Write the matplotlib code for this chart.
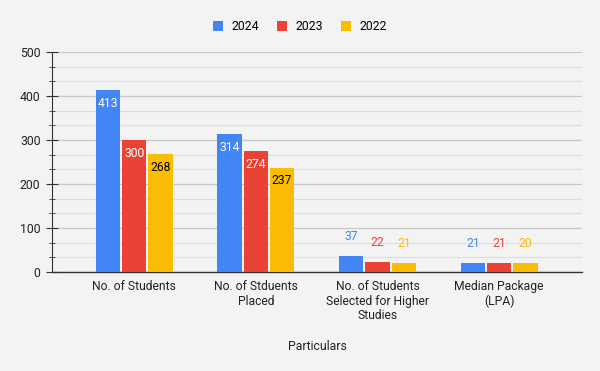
import matplotlib.pyplot as plt
from matplotlib.ticker import MultipleLocator
import numpy as np

plt.rcParams['font.family'] = ['Roboto', 'DejaVu Sans']

categories = ['No. of Students', 'No. of Stduents\nPlaced',
              'No. of Students\nSelected for Higher\nStudies', 'Median Package\n(LPA)']
years = ['2024', '2023', '2022']
values = {
    '2024': [413, 314, 37, 21],
    '2023': [300, 274, 22, 21],
    '2022': [268, 237, 21, 20],
}
colors = {'2024': '#4285F4', '2023': '#EA4335', '2022': '#FBBC04'}
inside_text = {'2024': 'white', '2023': 'white', '2022': 'black'}

bg = '#f3f3f3'
fig = plt.figure(figsize=(6, 3.71), dpi=100, facecolor=bg)
ax = fig.add_axes([52 / 600, 1 - 272 / 371, 530 / 600, 220 / 371], facecolor=bg)

x = np.arange(len(categories))
w = 0.2
for i, yr in enumerate(years):
    pos = x + (i - 1) * (w + 0.016)
    bars = ax.bar(pos, values[yr], width=w, color=colors[yr], label=yr, zorder=3)
    for b, v in zip(bars, values[yr]):
        cx = b.get_x() + b.get_width() / 2
        if v > 100:
            ax.annotate(str(v), (cx, v), xytext=(0, -9.5), textcoords='offset points',
                        ha='center', va='center', fontsize=8.7, color=inside_text[yr], zorder=4)
        else:
            ax.annotate(str(v), (cx, v), xytext=(0, 14), textcoords='offset points',
                        ha='center', va='center', fontsize=8.7, color=colors[yr], zorder=4)

ax.set_xlim(-0.675, 3.68)
ax.set_ylim(0, 500)
ax.yaxis.set_major_locator(MultipleLocator(100))
ax.yaxis.set_minor_locator(MultipleLocator(100 / 3))
ax.grid(axis='y', which='major', color='#c8c8c8', linewidth=0.9, zorder=0)
ax.grid(axis='y', which='minor', color='#dedede', linewidth=0.8, zorder=0)
ax.set_xticks(x)
ax.set_xticklabels(categories, fontsize=8.7, color='#222222', linespacing=1.12)
ax.tick_params(axis='x', length=0, pad=6)
ax.tick_params(axis='y', which='major', length=8.5, direction='inout', labelsize=8.8,
               labelcolor='#222222', color='#333333', pad=4)
ax.tick_params(axis='y', which='minor', length=5, direction='inout', color='#333333')

for s in ['top', 'right']:
    ax.spines[s].set_visible(False)
ax.spines['left'].set_color('#333333')
ax.spines['bottom'].set_color('#333333')
ax.spines['bottom'].set_linewidth(1.0)

ax.set_xlabel('Particulars', fontsize=8.8, color='#222222', labelpad=13)

fig.legend(loc='upper center', bbox_to_anchor=(0.5, 0.975), ncol=3, frameon=False,
           fontsize=8.8, handlelength=0.8, handleheight=0.8, handletextpad=0.7,
           columnspacing=1.5)

fig.savefig('out.png', dpi=100, facecolor=bg)
